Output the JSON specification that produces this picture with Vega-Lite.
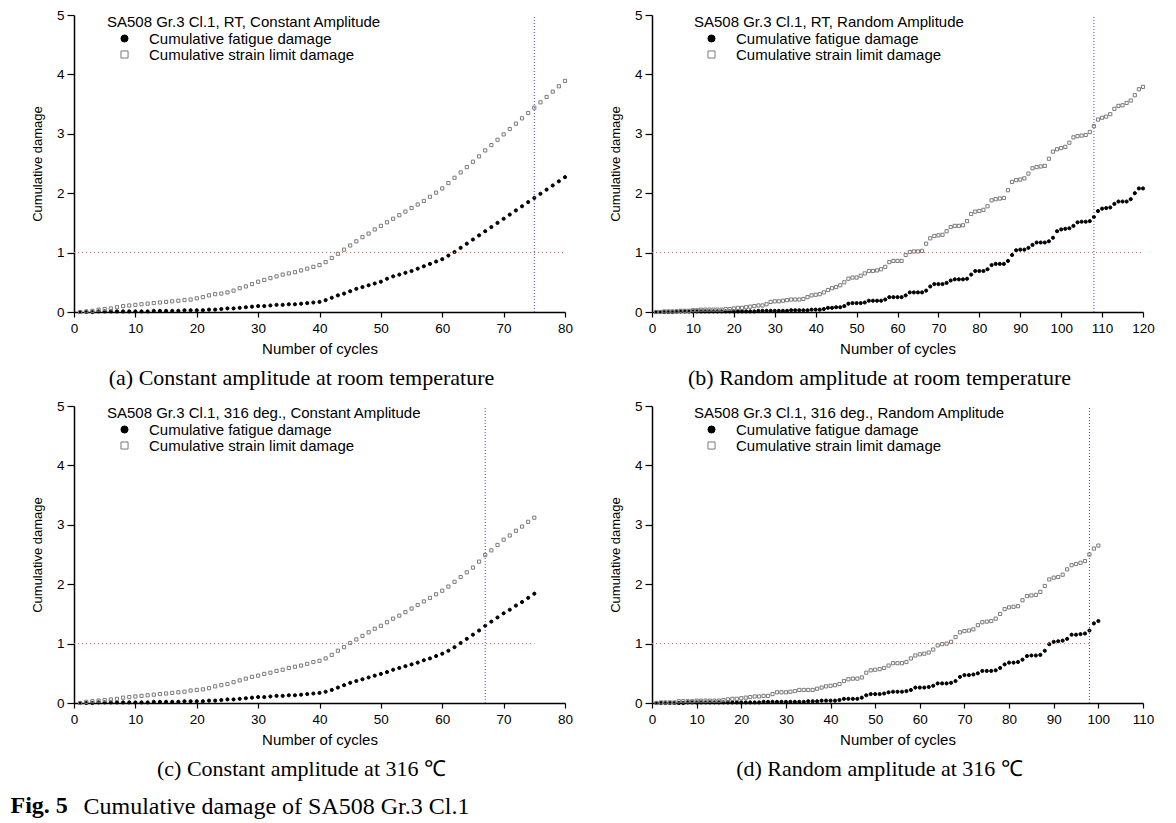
{
"$schema": "https://vega.github.io/schema/vega-lite/v6.json",
"background": "white",
"padding": {"left": 10, "top": 8, "right": 5, "bottom": 0},
"config": {
 "view": {"stroke": null},
 "axis": {"domainColor": "black", "domainWidth": 1.5, "tickColor": "black", "tickWidth": 1.2, "labelColor": "black", "labelFont": "Liberation Sans", "labelFontSize": 13.5, "titleFont": "Liberation Sans", "titleFontSize": 13, "titleFontWeight": "normal", "titleColor": "black", "grid": false, "labelFlush": false, "labelOverlap": false, "labelBound": false},
 "axisX": {"labelPadding": 4, "titlePadding": 7, "titleFontSize": 15},
 "axisY": {"labelPadding": 3, "titlePadding": 12},
 "legend": {"orient": "none", "padding": 0, "titleFont": "Liberation Sans", "titleFontSize": 15, "titleFontWeight": "normal", "titleColor": "black", "labelFont": "Liberation Sans", "labelFontSize": 15, "labelColor": "black", "symbolSize": 50, "symbolStrokeWidth": 1, "symbolOffset": 10, "labelOffset": 17, "rowPadding": 0, "titlePadding": 1, "labelLimit": 400, "titleLimit": 400},
 "title": {"font": "Liberation Serif", "fontSize": 22, "fontWeight": "normal", "color": "black", "orient": "bottom", "offset": 11, "anchor": "middle"}
},
"datasets": {
"a": [
{"n":1,"s":"F","v":0},{"n":2,"s":"F","v":0},{"n":3,"s":"F","v":0},{"n":4,"s":"F","v":0.01},{"n":5,"s":"F","v":0.01},{"n":6,"s":"F","v":0.01},{"n":7,"s":"F","v":0.01},{"n":8,"s":"F","v":0.01},{"n":9,"s":"F","v":0.01},{"n":10,"s":"F","v":0.01},
{"n":11,"s":"F","v":0.01},{"n":12,"s":"F","v":0.01},{"n":13,"s":"F","v":0.02},{"n":14,"s":"F","v":0.02},{"n":15,"s":"F","v":0.02},{"n":16,"s":"F","v":0.02},{"n":17,"s":"F","v":0.02},{"n":18,"s":"F","v":0.03},{"n":19,"s":"F","v":0.03},{"n":20,"s":"F","v":0.03},
{"n":21,"s":"F","v":0.03},{"n":22,"s":"F","v":0.04},{"n":23,"s":"F","v":0.04},{"n":24,"s":"F","v":0.05},{"n":25,"s":"F","v":0.06},{"n":26,"s":"F","v":0.06},{"n":27,"s":"F","v":0.07},{"n":28,"s":"F","v":0.08},{"n":29,"s":"F","v":0.09},{"n":30,"s":"F","v":0.10},
{"n":31,"s":"F","v":0.10},{"n":32,"s":"F","v":0.11},{"n":33,"s":"F","v":0.12},{"n":34,"s":"F","v":0.12},{"n":35,"s":"F","v":0.13},{"n":36,"s":"F","v":0.13},{"n":37,"s":"F","v":0.14},{"n":38,"s":"F","v":0.15},{"n":39,"s":"F","v":0.16},{"n":40,"s":"F","v":0.17},
{"n":41,"s":"F","v":0.20},{"n":42,"s":"F","v":0.24},{"n":43,"s":"F","v":0.28},{"n":44,"s":"F","v":0.31},{"n":45,"s":"F","v":0.35},{"n":46,"s":"F","v":0.39},{"n":47,"s":"F","v":0.42},{"n":48,"s":"F","v":0.45},{"n":49,"s":"F","v":0.48},{"n":50,"s":"F","v":0.51},
{"n":51,"s":"F","v":0.56},{"n":52,"s":"F","v":0.60},{"n":53,"s":"F","v":0.63},{"n":54,"s":"F","v":0.66},{"n":55,"s":"F","v":0.69},{"n":56,"s":"F","v":0.73},{"n":57,"s":"F","v":0.77},{"n":58,"s":"F","v":0.81},{"n":59,"s":"F","v":0.85},{"n":60,"s":"F","v":0.89},
{"n":61,"s":"F","v":0.95},{"n":62,"s":"F","v":1.01},{"n":63,"s":"F","v":1.08},{"n":64,"s":"F","v":1.15},{"n":65,"s":"F","v":1.22},{"n":66,"s":"F","v":1.29},{"n":67,"s":"F","v":1.36},{"n":68,"s":"F","v":1.43},{"n":69,"s":"F","v":1.50},{"n":70,"s":"F","v":1.57},
{"n":71,"s":"F","v":1.64},{"n":72,"s":"F","v":1.71},{"n":73,"s":"F","v":1.78},{"n":74,"s":"F","v":1.85},{"n":75,"s":"F","v":1.92},{"n":76,"s":"F","v":1.99},{"n":77,"s":"F","v":2.06},{"n":78,"s":"F","v":2.13},{"n":79,"s":"F","v":2.20},{"n":80,"s":"F","v":2.27},
{"n":1,"s":"S","v":0},{"n":2,"s":"S","v":0.01},{"n":3,"s":"S","v":0.02},{"n":4,"s":"S","v":0.04},{"n":5,"s":"S","v":0.05},{"n":6,"s":"S","v":0.06},{"n":7,"s":"S","v":0.08},{"n":8,"s":"S","v":0.10},{"n":9,"s":"S","v":0.11},{"n":10,"s":"S","v":0.12},
{"n":11,"s":"S","v":0.13},{"n":12,"s":"S","v":0.14},{"n":13,"s":"S","v":0.15},{"n":14,"s":"S","v":0.16},{"n":15,"s":"S","v":0.17},{"n":16,"s":"S","v":0.18},{"n":17,"s":"S","v":0.19},{"n":18,"s":"S","v":0.20},{"n":19,"s":"S","v":0.21},{"n":20,"s":"S","v":0.23},
{"n":21,"s":"S","v":0.25},{"n":22,"s":"S","v":0.28},{"n":23,"s":"S","v":0.30},{"n":24,"s":"S","v":0.31},{"n":25,"s":"S","v":0.33},{"n":26,"s":"S","v":0.36},{"n":27,"s":"S","v":0.40},{"n":28,"s":"S","v":0.43},{"n":29,"s":"S","v":0.47},{"n":30,"s":"S","v":0.51},
{"n":31,"s":"S","v":0.54},{"n":32,"s":"S","v":0.57},{"n":33,"s":"S","v":0.60},{"n":34,"s":"S","v":0.63},{"n":35,"s":"S","v":0.65},{"n":36,"s":"S","v":0.67},{"n":37,"s":"S","v":0.70},{"n":38,"s":"S","v":0.73},{"n":39,"s":"S","v":0.76},{"n":40,"s":"S","v":0.79},
{"n":41,"s":"S","v":0.84},{"n":42,"s":"S","v":0.91},{"n":43,"s":"S","v":0.98},{"n":44,"s":"S","v":1.05},{"n":45,"s":"S","v":1.12},{"n":46,"s":"S","v":1.19},{"n":47,"s":"S","v":1.26},{"n":48,"s":"S","v":1.32},{"n":49,"s":"S","v":1.39},{"n":50,"s":"S","v":1.45},
{"n":51,"s":"S","v":1.51},{"n":52,"s":"S","v":1.57},{"n":53,"s":"S","v":1.63},{"n":54,"s":"S","v":1.69},{"n":55,"s":"S","v":1.75},{"n":56,"s":"S","v":1.81},{"n":57,"s":"S","v":1.87},{"n":58,"s":"S","v":1.94},{"n":59,"s":"S","v":2.01},{"n":60,"s":"S","v":2.08},
{"n":61,"s":"S","v":2.17},{"n":62,"s":"S","v":2.26},{"n":63,"s":"S","v":2.35},{"n":64,"s":"S","v":2.44},{"n":65,"s":"S","v":2.53},{"n":66,"s":"S","v":2.62},{"n":67,"s":"S","v":2.72},{"n":68,"s":"S","v":2.81},{"n":69,"s":"S","v":2.90},{"n":70,"s":"S","v":2.99},
{"n":71,"s":"S","v":3.08},{"n":72,"s":"S","v":3.17},{"n":73,"s":"S","v":3.26},{"n":74,"s":"S","v":3.35},{"n":75,"s":"S","v":3.44},{"n":76,"s":"S","v":3.53},{"n":77,"s":"S","v":3.62},{"n":78,"s":"S","v":3.71},{"n":79,"s":"S","v":3.80},{"n":80,"s":"S","v":3.89}
],
"b": [
{"n":1,"s":"F","v":0},{"n":2,"s":"F","v":0},{"n":3,"s":"F","v":0},{"n":4,"s":"F","v":0},{"n":5,"s":"F","v":0},{"n":6,"s":"F","v":0.01},{"n":7,"s":"F","v":0.01},{"n":8,"s":"F","v":0.01},{"n":9,"s":"F","v":0.01},{"n":10,"s":"F","v":0.01},
{"n":11,"s":"F","v":0.01},{"n":12,"s":"F","v":0.01},{"n":13,"s":"F","v":0.01},{"n":14,"s":"F","v":0.01},{"n":15,"s":"F","v":0.01},{"n":16,"s":"F","v":0.01},{"n":17,"s":"F","v":0.01},{"n":18,"s":"F","v":0.01},{"n":19,"s":"F","v":0.01},{"n":20,"s":"F","v":0.01},
{"n":21,"s":"F","v":0.01},{"n":22,"s":"F","v":0.01},{"n":23,"s":"F","v":0.01},{"n":24,"s":"F","v":0.01},{"n":25,"s":"F","v":0.01},{"n":26,"s":"F","v":0.02},{"n":27,"s":"F","v":0.02},{"n":28,"s":"F","v":0.02},{"n":29,"s":"F","v":0.02},{"n":30,"s":"F","v":0.02},
{"n":31,"s":"F","v":0.02},{"n":32,"s":"F","v":0.02},{"n":33,"s":"F","v":0.02},{"n":34,"s":"F","v":0.03},{"n":35,"s":"F","v":0.03},{"n":36,"s":"F","v":0.03},{"n":37,"s":"F","v":0.03},{"n":38,"s":"F","v":0.03},{"n":39,"s":"F","v":0.04},{"n":40,"s":"F","v":0.04},
{"n":41,"s":"F","v":0.04},{"n":42,"s":"F","v":0.05},{"n":43,"s":"F","v":0.07},{"n":44,"s":"F","v":0.07},{"n":45,"s":"F","v":0.08},{"n":46,"s":"F","v":0.08},{"n":47,"s":"F","v":0.10},{"n":48,"s":"F","v":0.14},{"n":49,"s":"F","v":0.15},{"n":50,"s":"F","v":0.15},
{"n":51,"s":"F","v":0.15},{"n":52,"s":"F","v":0.16},{"n":53,"s":"F","v":0.19},{"n":54,"s":"F","v":0.19},{"n":55,"s":"F","v":0.19},{"n":56,"s":"F","v":0.19},{"n":57,"s":"F","v":0.21},{"n":58,"s":"F","v":0.25},{"n":59,"s":"F","v":0.25},{"n":60,"s":"F","v":0.25},
{"n":61,"s":"F","v":0.25},{"n":62,"s":"F","v":0.28},{"n":63,"s":"F","v":0.33},{"n":64,"s":"F","v":0.33},{"n":65,"s":"F","v":0.33},{"n":66,"s":"F","v":0.33},{"n":67,"s":"F","v":0.36},{"n":68,"s":"F","v":0.43},{"n":69,"s":"F","v":0.47},{"n":70,"s":"F","v":0.47},
{"n":71,"s":"F","v":0.47},{"n":72,"s":"F","v":0.49},{"n":73,"s":"F","v":0.53},{"n":74,"s":"F","v":0.55},{"n":75,"s":"F","v":0.55},{"n":76,"s":"F","v":0.55},{"n":77,"s":"F","v":0.56},{"n":78,"s":"F","v":0.63},{"n":79,"s":"F","v":0.69},{"n":80,"s":"F","v":0.69},
{"n":81,"s":"F","v":0.69},{"n":82,"s":"F","v":0.72},{"n":83,"s":"F","v":0.79},{"n":84,"s":"F","v":0.81},{"n":85,"s":"F","v":0.81},{"n":86,"s":"F","v":0.81},{"n":87,"s":"F","v":0.86},{"n":88,"s":"F","v":0.96},{"n":89,"s":"F","v":1.04},{"n":90,"s":"F","v":1.05},
{"n":91,"s":"F","v":1.05},{"n":92,"s":"F","v":1.08},{"n":93,"s":"F","v":1.13},{"n":94,"s":"F","v":1.17},{"n":95,"s":"F","v":1.17},{"n":96,"s":"F","v":1.17},{"n":97,"s":"F","v":1.19},{"n":98,"s":"F","v":1.25},{"n":99,"s":"F","v":1.36},{"n":100,"s":"F","v":1.39},
{"n":101,"s":"F","v":1.40},{"n":102,"s":"F","v":1.41},{"n":103,"s":"F","v":1.45},{"n":104,"s":"F","v":1.51},{"n":105,"s":"F","v":1.52},{"n":106,"s":"F","v":1.52},{"n":107,"s":"F","v":1.53},{"n":108,"s":"F","v":1.60},{"n":109,"s":"F","v":1.70},{"n":110,"s":"F","v":1.74},
{"n":111,"s":"F","v":1.75},{"n":112,"s":"F","v":1.76},{"n":113,"s":"F","v":1.82},{"n":114,"s":"F","v":1.86},{"n":115,"s":"F","v":1.86},{"n":116,"s":"F","v":1.86},{"n":117,"s":"F","v":1.90},{"n":118,"s":"F","v":2.00},{"n":119,"s":"F","v":2.08},{"n":120,"s":"F","v":2.08},
{"n":1,"s":"S","v":0},{"n":2,"s":"S","v":0},{"n":3,"s":"S","v":0.01},{"n":4,"s":"S","v":0.01},{"n":5,"s":"S","v":0.01},{"n":6,"s":"S","v":0.01},{"n":7,"s":"S","v":0.02},{"n":8,"s":"S","v":0.02},{"n":9,"s":"S","v":0.02},{"n":10,"s":"S","v":0.03},
{"n":11,"s":"S","v":0.03},{"n":12,"s":"S","v":0.04},{"n":13,"s":"S","v":0.04},{"n":14,"s":"S","v":0.04},{"n":15,"s":"S","v":0.04},{"n":16,"s":"S","v":0.04},{"n":17,"s":"S","v":0.04},{"n":18,"s":"S","v":0.05},{"n":19,"s":"S","v":0.05},{"n":20,"s":"S","v":0.06},
{"n":21,"s":"S","v":0.07},{"n":22,"s":"S","v":0.07},{"n":23,"s":"S","v":0.08},{"n":24,"s":"S","v":0.09},{"n":25,"s":"S","v":0.10},{"n":26,"s":"S","v":0.11},{"n":27,"s":"S","v":0.11},{"n":28,"s":"S","v":0.13},{"n":29,"s":"S","v":0.17},{"n":30,"s":"S","v":0.18},
{"n":31,"s":"S","v":0.18},{"n":32,"s":"S","v":0.19},{"n":33,"s":"S","v":0.20},{"n":34,"s":"S","v":0.21},{"n":35,"s":"S","v":0.21},{"n":36,"s":"S","v":0.21},{"n":37,"s":"S","v":0.22},{"n":38,"s":"S","v":0.25},{"n":39,"s":"S","v":0.28},{"n":40,"s":"S","v":0.29},
{"n":41,"s":"S","v":0.30},{"n":42,"s":"S","v":0.33},{"n":43,"s":"S","v":0.37},{"n":44,"s":"S","v":0.40},{"n":45,"s":"S","v":0.42},{"n":46,"s":"S","v":0.45},{"n":47,"s":"S","v":0.50},{"n":48,"s":"S","v":0.56},{"n":49,"s":"S","v":0.58},{"n":50,"s":"S","v":0.58},
{"n":51,"s":"S","v":0.61},{"n":52,"s":"S","v":0.65},{"n":53,"s":"S","v":0.69},{"n":54,"s":"S","v":0.69},{"n":55,"s":"S","v":0.70},{"n":56,"s":"S","v":0.72},{"n":57,"s":"S","v":0.76},{"n":58,"s":"S","v":0.84},{"n":59,"s":"S","v":0.86},{"n":60,"s":"S","v":0.86},
{"n":61,"s":"S","v":0.86},{"n":62,"s":"S","v":0.96},{"n":63,"s":"S","v":1.01},{"n":64,"s":"S","v":1.02},{"n":65,"s":"S","v":1.02},{"n":66,"s":"S","v":1.03},{"n":67,"s":"S","v":1.15},{"n":68,"s":"S","v":1.24},{"n":69,"s":"S","v":1.28},{"n":70,"s":"S","v":1.29},
{"n":71,"s":"S","v":1.30},{"n":72,"s":"S","v":1.36},{"n":73,"s":"S","v":1.43},{"n":74,"s":"S","v":1.45},{"n":75,"s":"S","v":1.45},{"n":76,"s":"S","v":1.46},{"n":77,"s":"S","v":1.53},{"n":78,"s":"S","v":1.65},{"n":79,"s":"S","v":1.69},{"n":80,"s":"S","v":1.70},
{"n":81,"s":"S","v":1.72},{"n":82,"s":"S","v":1.78},{"n":83,"s":"S","v":1.88},{"n":84,"s":"S","v":1.90},{"n":85,"s":"S","v":1.91},{"n":86,"s":"S","v":1.92},{"n":87,"s":"S","v":2.05},{"n":88,"s":"S","v":2.19},{"n":89,"s":"S","v":2.22},{"n":90,"s":"S","v":2.23},
{"n":91,"s":"S","v":2.25},{"n":92,"s":"S","v":2.33},{"n":93,"s":"S","v":2.42},{"n":94,"s":"S","v":2.44},{"n":95,"s":"S","v":2.45},{"n":96,"s":"S","v":2.46},{"n":97,"s":"S","v":2.58},{"n":98,"s":"S","v":2.70},{"n":99,"s":"S","v":2.74},{"n":100,"s":"S","v":2.76},
{"n":101,"s":"S","v":2.78},{"n":102,"s":"S","v":2.85},{"n":103,"s":"S","v":2.94},{"n":104,"s":"S","v":2.96},{"n":105,"s":"S","v":2.97},{"n":106,"s":"S","v":2.98},{"n":107,"s":"S","v":3.03},{"n":108,"s":"S","v":3.13},{"n":109,"s":"S","v":3.24},{"n":110,"s":"S","v":3.27},
{"n":111,"s":"S","v":3.29},{"n":112,"s":"S","v":3.33},{"n":113,"s":"S","v":3.42},{"n":114,"s":"S","v":3.47},{"n":115,"s":"S","v":3.48},{"n":116,"s":"S","v":3.52},{"n":117,"s":"S","v":3.56},{"n":118,"s":"S","v":3.65},{"n":119,"s":"S","v":3.75},{"n":120,"s":"S","v":3.79}
],
"c": [
{"n":1,"s":"F","v":0},{"n":2,"s":"F","v":0},{"n":3,"s":"F","v":0},{"n":4,"s":"F","v":0.01},{"n":5,"s":"F","v":0.01},{"n":6,"s":"F","v":0.01},{"n":7,"s":"F","v":0.01},{"n":8,"s":"F","v":0.01},{"n":9,"s":"F","v":0.01},{"n":10,"s":"F","v":0.01},
{"n":11,"s":"F","v":0.01},{"n":12,"s":"F","v":0.01},{"n":13,"s":"F","v":0.02},{"n":14,"s":"F","v":0.02},{"n":15,"s":"F","v":0.02},{"n":16,"s":"F","v":0.02},{"n":17,"s":"F","v":0.02},{"n":18,"s":"F","v":0.03},{"n":19,"s":"F","v":0.03},{"n":20,"s":"F","v":0.03},
{"n":21,"s":"F","v":0.03},{"n":22,"s":"F","v":0.04},{"n":23,"s":"F","v":0.04},{"n":24,"s":"F","v":0.05},{"n":25,"s":"F","v":0.06},{"n":26,"s":"F","v":0.06},{"n":27,"s":"F","v":0.07},{"n":28,"s":"F","v":0.08},{"n":29,"s":"F","v":0.09},{"n":30,"s":"F","v":0.10},
{"n":31,"s":"F","v":0.10},{"n":32,"s":"F","v":0.11},{"n":33,"s":"F","v":0.12},{"n":34,"s":"F","v":0.12},{"n":35,"s":"F","v":0.13},{"n":36,"s":"F","v":0.13},{"n":37,"s":"F","v":0.14},{"n":38,"s":"F","v":0.15},{"n":39,"s":"F","v":0.16},{"n":40,"s":"F","v":0.17},
{"n":41,"s":"F","v":0.19},{"n":42,"s":"F","v":0.22},{"n":43,"s":"F","v":0.26},{"n":44,"s":"F","v":0.30},{"n":45,"s":"F","v":0.34},{"n":46,"s":"F","v":0.37},{"n":47,"s":"F","v":0.40},{"n":48,"s":"F","v":0.43},{"n":49,"s":"F","v":0.46},{"n":50,"s":"F","v":0.49},
{"n":51,"s":"F","v":0.52},{"n":52,"s":"F","v":0.56},{"n":53,"s":"F","v":0.59},{"n":54,"s":"F","v":0.62},{"n":55,"s":"F","v":0.65},{"n":56,"s":"F","v":0.68},{"n":57,"s":"F","v":0.72},{"n":58,"s":"F","v":0.75},{"n":59,"s":"F","v":0.79},{"n":60,"s":"F","v":0.83},
{"n":61,"s":"F","v":0.88},{"n":62,"s":"F","v":0.94},{"n":63,"s":"F","v":1.01},{"n":64,"s":"F","v":1.08},{"n":65,"s":"F","v":1.15},{"n":66,"s":"F","v":1.22},{"n":67,"s":"F","v":1.30},{"n":68,"s":"F","v":1.37},{"n":69,"s":"F","v":1.44},{"n":70,"s":"F","v":1.51},
{"n":71,"s":"F","v":1.57},{"n":72,"s":"F","v":1.64},{"n":73,"s":"F","v":1.70},{"n":74,"s":"F","v":1.77},{"n":75,"s":"F","v":1.84},
{"n":1,"s":"S","v":0},{"n":2,"s":"S","v":0.02},{"n":3,"s":"S","v":0.03},{"n":4,"s":"S","v":0.04},{"n":5,"s":"S","v":0.05},{"n":6,"s":"S","v":0.06},{"n":7,"s":"S","v":0.07},{"n":8,"s":"S","v":0.09},{"n":9,"s":"S","v":0.10},{"n":10,"s":"S","v":0.11},
{"n":11,"s":"S","v":0.12},{"n":12,"s":"S","v":0.13},{"n":13,"s":"S","v":0.14},{"n":14,"s":"S","v":0.15},{"n":15,"s":"S","v":0.16},{"n":16,"s":"S","v":0.17},{"n":17,"s":"S","v":0.18},{"n":18,"s":"S","v":0.19},{"n":19,"s":"S","v":0.21},{"n":20,"s":"S","v":0.22},
{"n":21,"s":"S","v":0.23},{"n":22,"s":"S","v":0.25},{"n":23,"s":"S","v":0.28},{"n":24,"s":"S","v":0.30},{"n":25,"s":"S","v":0.32},{"n":26,"s":"S","v":0.35},{"n":27,"s":"S","v":0.38},{"n":28,"s":"S","v":0.41},{"n":29,"s":"S","v":0.44},{"n":30,"s":"S","v":0.46},
{"n":31,"s":"S","v":0.49},{"n":32,"s":"S","v":0.51},{"n":33,"s":"S","v":0.54},{"n":34,"s":"S","v":0.56},{"n":35,"s":"S","v":0.59},{"n":36,"s":"S","v":0.61},{"n":37,"s":"S","v":0.63},{"n":38,"s":"S","v":0.66},{"n":39,"s":"S","v":0.69},{"n":40,"s":"S","v":0.71},
{"n":41,"s":"S","v":0.75},{"n":42,"s":"S","v":0.81},{"n":43,"s":"S","v":0.88},{"n":44,"s":"S","v":0.94},{"n":45,"s":"S","v":1.01},{"n":46,"s":"S","v":1.07},{"n":47,"s":"S","v":1.13},{"n":48,"s":"S","v":1.19},{"n":49,"s":"S","v":1.25},{"n":50,"s":"S","v":1.30},
{"n":51,"s":"S","v":1.36},{"n":52,"s":"S","v":1.42},{"n":53,"s":"S","v":1.47},{"n":54,"s":"S","v":1.53},{"n":55,"s":"S","v":1.59},{"n":56,"s":"S","v":1.65},{"n":57,"s":"S","v":1.71},{"n":58,"s":"S","v":1.77},{"n":59,"s":"S","v":1.83},{"n":60,"s":"S","v":1.89},
{"n":61,"s":"S","v":1.96},{"n":62,"s":"S","v":2.04},{"n":63,"s":"S","v":2.12},{"n":64,"s":"S","v":2.20},{"n":65,"s":"S","v":2.28},{"n":66,"s":"S","v":2.38},{"n":67,"s":"S","v":2.49},{"n":68,"s":"S","v":2.57},{"n":69,"s":"S","v":2.66},{"n":70,"s":"S","v":2.75},
{"n":71,"s":"S","v":2.82},{"n":72,"s":"S","v":2.90},{"n":73,"s":"S","v":2.97},{"n":74,"s":"S","v":3.05},{"n":75,"s":"S","v":3.12}
],
"d": [
{"n":1,"s":"F","v":0},{"n":2,"s":"F","v":0},{"n":3,"s":"F","v":0},{"n":4,"s":"F","v":0},{"n":5,"s":"F","v":0},{"n":6,"s":"F","v":0},{"n":7,"s":"F","v":0},{"n":8,"s":"F","v":0.01},{"n":9,"s":"F","v":0.01},{"n":10,"s":"F","v":0.01},
{"n":11,"s":"F","v":0.01},{"n":12,"s":"F","v":0.01},{"n":13,"s":"F","v":0.01},{"n":14,"s":"F","v":0.01},{"n":15,"s":"F","v":0.01},{"n":16,"s":"F","v":0.01},{"n":17,"s":"F","v":0.01},{"n":18,"s":"F","v":0.01},{"n":19,"s":"F","v":0.01},{"n":20,"s":"F","v":0.01},
{"n":21,"s":"F","v":0.01},{"n":22,"s":"F","v":0.01},{"n":23,"s":"F","v":0.01},{"n":24,"s":"F","v":0.01},{"n":25,"s":"F","v":0.02},{"n":26,"s":"F","v":0.02},{"n":27,"s":"F","v":0.02},{"n":28,"s":"F","v":0.02},{"n":29,"s":"F","v":0.02},{"n":30,"s":"F","v":0.02},
{"n":31,"s":"F","v":0.02},{"n":32,"s":"F","v":0.02},{"n":33,"s":"F","v":0.02},{"n":34,"s":"F","v":0.02},{"n":35,"s":"F","v":0.03},{"n":36,"s":"F","v":0.03},{"n":37,"s":"F","v":0.03},{"n":38,"s":"F","v":0.04},{"n":39,"s":"F","v":0.04},{"n":40,"s":"F","v":0.04},
{"n":41,"s":"F","v":0.04},{"n":42,"s":"F","v":0.05},{"n":43,"s":"F","v":0.07},{"n":44,"s":"F","v":0.07},{"n":45,"s":"F","v":0.07},{"n":46,"s":"F","v":0.07},{"n":47,"s":"F","v":0.09},{"n":48,"s":"F","v":0.13},{"n":49,"s":"F","v":0.15},{"n":50,"s":"F","v":0.15},
{"n":51,"s":"F","v":0.15},{"n":52,"s":"F","v":0.16},{"n":53,"s":"F","v":0.18},{"n":54,"s":"F","v":0.19},{"n":55,"s":"F","v":0.19},{"n":56,"s":"F","v":0.19},{"n":57,"s":"F","v":0.20},{"n":58,"s":"F","v":0.22},{"n":59,"s":"F","v":0.26},{"n":60,"s":"F","v":0.26},
{"n":61,"s":"F","v":0.26},{"n":62,"s":"F","v":0.27},{"n":63,"s":"F","v":0.29},{"n":64,"s":"F","v":0.33},{"n":65,"s":"F","v":0.33},{"n":66,"s":"F","v":0.33},{"n":67,"s":"F","v":0.34},{"n":68,"s":"F","v":0.37},{"n":69,"s":"F","v":0.44},{"n":70,"s":"F","v":0.47},
{"n":71,"s":"F","v":0.47},{"n":72,"s":"F","v":0.48},{"n":73,"s":"F","v":0.50},{"n":74,"s":"F","v":0.54},{"n":75,"s":"F","v":0.54},{"n":76,"s":"F","v":0.54},{"n":77,"s":"F","v":0.55},{"n":78,"s":"F","v":0.59},{"n":79,"s":"F","v":0.65},{"n":80,"s":"F","v":0.68},
{"n":81,"s":"F","v":0.68},{"n":82,"s":"F","v":0.69},{"n":83,"s":"F","v":0.73},{"n":84,"s":"F","v":0.79},{"n":85,"s":"F","v":0.80},{"n":86,"s":"F","v":0.80},{"n":87,"s":"F","v":0.81},{"n":88,"s":"F","v":0.88},{"n":89,"s":"F","v":0.99},{"n":90,"s":"F","v":1.03},
{"n":91,"s":"F","v":1.04},{"n":92,"s":"F","v":1.05},{"n":93,"s":"F","v":1.08},{"n":94,"s":"F","v":1.15},{"n":95,"s":"F","v":1.15},{"n":96,"s":"F","v":1.16},{"n":97,"s":"F","v":1.17},{"n":98,"s":"F","v":1.22},{"n":99,"s":"F","v":1.34},{"n":100,"s":"F","v":1.38},
{"n":1,"s":"S","v":0},{"n":2,"s":"S","v":0.01},{"n":3,"s":"S","v":0.01},{"n":4,"s":"S","v":0.01},{"n":5,"s":"S","v":0.01},{"n":6,"s":"S","v":0.03},{"n":7,"s":"S","v":0.03},{"n":8,"s":"S","v":0.03},{"n":9,"s":"S","v":0.03},{"n":10,"s":"S","v":0.04},
{"n":11,"s":"S","v":0.04},{"n":12,"s":"S","v":0.04},{"n":13,"s":"S","v":0.04},{"n":14,"s":"S","v":0.04},{"n":15,"s":"S","v":0.04},{"n":16,"s":"S","v":0.05},{"n":17,"s":"S","v":0.06},{"n":18,"s":"S","v":0.07},{"n":19,"s":"S","v":0.07},{"n":20,"s":"S","v":0.08},
{"n":21,"s":"S","v":0.09},{"n":22,"s":"S","v":0.10},{"n":23,"s":"S","v":0.11},{"n":24,"s":"S","v":0.11},{"n":25,"s":"S","v":0.12},{"n":26,"s":"S","v":0.12},{"n":27,"s":"S","v":0.15},{"n":28,"s":"S","v":0.18},{"n":29,"s":"S","v":0.18},{"n":30,"s":"S","v":0.18},
{"n":31,"s":"S","v":0.19},{"n":32,"s":"S","v":0.20},{"n":33,"s":"S","v":0.22},{"n":34,"s":"S","v":0.22},{"n":35,"s":"S","v":0.22},{"n":36,"s":"S","v":0.22},{"n":37,"s":"S","v":0.24},{"n":38,"s":"S","v":0.26},{"n":39,"s":"S","v":0.28},{"n":40,"s":"S","v":0.29},
{"n":41,"s":"S","v":0.30},{"n":42,"s":"S","v":0.32},{"n":43,"s":"S","v":0.37},{"n":44,"s":"S","v":0.40},{"n":45,"s":"S","v":0.41},{"n":46,"s":"S","v":0.41},{"n":47,"s":"S","v":0.43},{"n":48,"s":"S","v":0.51},{"n":49,"s":"S","v":0.55},{"n":50,"s":"S","v":0.56},
{"n":51,"s":"S","v":0.57},{"n":52,"s":"S","v":0.59},{"n":53,"s":"S","v":0.63},{"n":54,"s":"S","v":0.67},{"n":55,"s":"S","v":0.67},{"n":56,"s":"S","v":0.67},{"n":57,"s":"S","v":0.69},{"n":58,"s":"S","v":0.75},{"n":59,"s":"S","v":0.80},{"n":60,"s":"S","v":0.82},
{"n":61,"s":"S","v":0.83},{"n":62,"s":"S","v":0.85},{"n":63,"s":"S","v":0.90},{"n":64,"s":"S","v":0.97},{"n":65,"s":"S","v":0.99},{"n":66,"s":"S","v":1.00},{"n":67,"s":"S","v":1.03},{"n":68,"s":"S","v":1.11},{"n":69,"s":"S","v":1.19},{"n":70,"s":"S","v":1.21},
{"n":71,"s":"S","v":1.22},{"n":72,"s":"S","v":1.24},{"n":73,"s":"S","v":1.31},{"n":74,"s":"S","v":1.36},{"n":75,"s":"S","v":1.37},{"n":76,"s":"S","v":1.38},{"n":77,"s":"S","v":1.42},{"n":78,"s":"S","v":1.50},{"n":79,"s":"S","v":1.58},{"n":80,"s":"S","v":1.61},
{"n":81,"s":"S","v":1.62},{"n":82,"s":"S","v":1.63},{"n":83,"s":"S","v":1.73},{"n":84,"s":"S","v":1.80},{"n":85,"s":"S","v":1.81},{"n":86,"s":"S","v":1.82},{"n":87,"s":"S","v":1.87},{"n":88,"s":"S","v":1.97},{"n":89,"s":"S","v":2.08},{"n":90,"s":"S","v":2.11},
{"n":91,"s":"S","v":2.12},{"n":92,"s":"S","v":2.16},{"n":93,"s":"S","v":2.25},{"n":94,"s":"S","v":2.32},{"n":95,"s":"S","v":2.34},{"n":96,"s":"S","v":2.36},{"n":97,"s":"S","v":2.39},{"n":98,"s":"S","v":2.50},{"n":99,"s":"S","v":2.60},{"n":100,"s":"S","v":2.65}
]
},
"resolve": {"scale": {"shape": "independent", "fill": "independent", "stroke": "independent"}, "legend": {"shape": "independent", "fill": "independent", "stroke": "independent"}},
"spacing": 10,
"title": {"text": "Cumulative damage of SA508 Gr.3 Cl.1", "anchor": "start", "offset": 0, "dx": 73, "dy": -23, "fontSize": 24},
"vconcat": [
{
"spacing": 36,
"resolve": {"scale": {"shape": "independent", "fill": "independent", "stroke": "independent"}, "legend": {"shape": "independent", "fill": "independent", "stroke": "independent"}},
"hconcat": [
{
"width": 491, "height": 297,
"title": {"text": "(a) Constant amplitude at room temperature", "dx": -18},
"layer": [
{"data": {"name": "a"},
 "mark": {"type": "point", "opacity": 1, "strokeWidth": 1, "size": 10},
 "encoding": {
  "x": {"field": "n", "type": "quantitative", "scale": {"domain": [0, 80], "nice": false}, "axis": {"title": "Number of cycles", "values": [0,5,10,15,20,25,30,35,40,45,50,55,60,65,70,75,80], "labelExpr": "datum.value % 10 == 0 ? datum.label : ''", "tickSize": {"condition": {"test": "datum.value % 10 != 0", "value": 3}, "value": 5}}},
  "y": {"field": "v", "type": "quantitative", "scale": {"domain": [0, 5], "nice": false}, "axis": {"title": "Cumulative damage", "values": [0,0.5,1,1.5,2,2.5,3,3.5,4,4.5,5], "labelExpr": "datum.value % 1 == 0 ? format(datum.value, 'd') : ''", "tickSize": {"condition": {"test": "datum.value % 1 != 0", "value": 4}, "value": 7}}},
  "shape": {"field": "s", "type": "nominal", "scale": {"domain": ["F","S"], "range": ["circle","square"]}, "legend": {"title": "SA508 Gr.3 Cl.1, RT, Constant Amplitude", "legendX": 33, "legendY": 0, "labelExpr": "datum.label == 'F' ? 'Cumulative fatigue damage' : 'Cumulative strain limit damage'"}},
  "fill": {"field": "s", "type": "nominal", "scale": {"domain": ["F","S"], "range": ["black","transparent"]}, "legend": {"title": "SA508 Gr.3 Cl.1, RT, Constant Amplitude", "legendX": 33, "legendY": 0, "labelExpr": "datum.label == 'F' ? 'Cumulative fatigue damage' : 'Cumulative strain limit damage'"}},
  "stroke": {"field": "s", "type": "nominal", "scale": {"domain": ["F","S"], "range": ["black","#7a7a7a"]}, "legend": {"title": "SA508 Gr.3 Cl.1, RT, Constant Amplitude", "legendX": 33, "legendY": 0, "labelExpr": "datum.label == 'F' ? 'Cumulative fatigue damage' : 'Cumulative strain limit damage'"}}
 }},
{"data": {"values": [{"n": 0, "n2": 80, "v": 1}]}, "mark": {"type": "rule", "color": "#e06666", "strokeDash": [1,3], "strokeWidth": 1}, "encoding": {"x": {"field": "n", "type": "quantitative"}, "x2": {"field": "n2"}, "y": {"field": "v", "type": "quantitative"}}},
{"data": {"values": [{"n": 75, "v": 0, "v2": 5}]}, "mark": {"type": "rule", "color": "#4040ff", "strokeDash": [1,2], "strokeWidth": 1}, "encoding": {"x": {"field": "n", "type": "quantitative"}, "y": {"field": "v", "type": "quantitative"}, "y2": {"field": "v2"}}}
]
},
{
"width": 491, "height": 297,
"title": {"text": "(b) Random amplitude at room temperature", "dx": -18},
"layer": [
{"data": {"name": "b"},
 "mark": {"type": "point", "opacity": 1, "strokeWidth": 1, "size": 10},
 "encoding": {
  "x": {"field": "n", "type": "quantitative", "scale": {"domain": [0, 120], "nice": false}, "axis": {"title": "Number of cycles", "values": [0,5,10,15,20,25,30,35,40,45,50,55,60,65,70,75,80,85,90,95,100,105,110,115,120], "labelExpr": "datum.value % 10 == 0 ? datum.label : ''", "tickSize": {"condition": {"test": "datum.value % 10 != 0", "value": 3}, "value": 5}}},
  "y": {"field": "v", "type": "quantitative", "scale": {"domain": [0, 5], "nice": false}, "axis": {"title": "Cumulative damage", "values": [0,0.5,1,1.5,2,2.5,3,3.5,4,4.5,5], "labelExpr": "datum.value % 1 == 0 ? format(datum.value, 'd') : ''", "tickSize": {"condition": {"test": "datum.value % 1 != 0", "value": 4}, "value": 7}}},
  "shape": {"field": "s", "type": "nominal", "scale": {"domain": ["F","S"], "range": ["circle","square"]}, "legend": {"title": "SA508 Gr.3 Cl.1, RT, Random Amplitude", "legendX": 42, "legendY": 0, "labelExpr": "datum.label == 'F' ? 'Cumulative fatigue damage' : 'Cumulative strain limit damage'"}},
  "fill": {"field": "s", "type": "nominal", "scale": {"domain": ["F","S"], "range": ["black","transparent"]}, "legend": {"title": "SA508 Gr.3 Cl.1, RT, Random Amplitude", "legendX": 42, "legendY": 0, "labelExpr": "datum.label == 'F' ? 'Cumulative fatigue damage' : 'Cumulative strain limit damage'"}},
  "stroke": {"field": "s", "type": "nominal", "scale": {"domain": ["F","S"], "range": ["black","#7a7a7a"]}, "legend": {"title": "SA508 Gr.3 Cl.1, RT, Random Amplitude", "legendX": 42, "legendY": 0, "labelExpr": "datum.label == 'F' ? 'Cumulative fatigue damage' : 'Cumulative strain limit damage'"}}
 }},
{"data": {"values": [{"n": 0, "n2": 120, "v": 1}]}, "mark": {"type": "rule", "color": "#e06666", "strokeDash": [1,3], "strokeWidth": 1}, "encoding": {"x": {"field": "n", "type": "quantitative"}, "x2": {"field": "n2"}, "y": {"field": "v", "type": "quantitative"}}},
{"data": {"values": [{"n": 108, "v": 0, "v2": 5}]}, "mark": {"type": "rule", "color": "#4040ff", "strokeDash": [1,2], "strokeWidth": 1}, "encoding": {"x": {"field": "n", "type": "quantitative"}, "y": {"field": "v", "type": "quantitative"}, "y2": {"field": "v2"}}}
]
}
]
},
{
"spacing": 36,
"title": {"text": "Fig. 5", "anchor": "start", "fontWeight": "bold", "offset": 14, "dx": -21, "fontSize": 24},
"resolve": {"scale": {"shape": "independent", "fill": "independent", "stroke": "independent"}, "legend": {"shape": "independent", "fill": "independent", "stroke": "independent"}},
"hconcat": [
{
"width": 491, "height": 297,
"title": {"text": "(c) Constant amplitude at 316 ℃", "dx": -18},
"layer": [
{"data": {"name": "c"},
 "mark": {"type": "point", "opacity": 1, "strokeWidth": 1, "size": 10},
 "encoding": {
  "x": {"field": "n", "type": "quantitative", "scale": {"domain": [0, 80], "nice": false}, "axis": {"title": "Number of cycles", "values": [0,5,10,15,20,25,30,35,40,45,50,55,60,65,70,75,80], "labelExpr": "datum.value % 10 == 0 ? datum.label : ''", "tickSize": {"condition": {"test": "datum.value % 10 != 0", "value": 3}, "value": 5}}},
  "y": {"field": "v", "type": "quantitative", "scale": {"domain": [0, 5], "nice": false}, "axis": {"title": "Cumulative damage", "values": [0,0.5,1,1.5,2,2.5,3,3.5,4,4.5,5], "labelExpr": "datum.value % 1 == 0 ? format(datum.value, 'd') : ''", "tickSize": {"condition": {"test": "datum.value % 1 != 0", "value": 4}, "value": 7}}},
  "shape": {"field": "s", "type": "nominal", "scale": {"domain": ["F","S"], "range": ["circle","square"]}, "legend": {"title": "SA508 Gr.3 Cl.1, 316 deg., Constant Amplitude", "legendX": 33, "legendY": 0, "labelExpr": "datum.label == 'F' ? 'Cumulative fatigue damage' : 'Cumulative strain limit damage'"}},
  "fill": {"field": "s", "type": "nominal", "scale": {"domain": ["F","S"], "range": ["black","transparent"]}, "legend": {"title": "SA508 Gr.3 Cl.1, 316 deg., Constant Amplitude", "legendX": 33, "legendY": 0, "labelExpr": "datum.label == 'F' ? 'Cumulative fatigue damage' : 'Cumulative strain limit damage'"}},
  "stroke": {"field": "s", "type": "nominal", "scale": {"domain": ["F","S"], "range": ["black","#7a7a7a"]}, "legend": {"title": "SA508 Gr.3 Cl.1, 316 deg., Constant Amplitude", "legendX": 33, "legendY": 0, "labelExpr": "datum.label == 'F' ? 'Cumulative fatigue damage' : 'Cumulative strain limit damage'"}}
 }},
{"data": {"values": [{"n": 0, "n2": 75, "v": 1}]}, "mark": {"type": "rule", "color": "#e06666", "strokeDash": [1,3], "strokeWidth": 1}, "encoding": {"x": {"field": "n", "type": "quantitative"}, "x2": {"field": "n2"}, "y": {"field": "v", "type": "quantitative"}}},
{"data": {"values": [{"n": 67, "v": 0, "v2": 5}]}, "mark": {"type": "rule", "color": "#4040ff", "strokeDash": [1,2], "strokeWidth": 1}, "encoding": {"x": {"field": "n", "type": "quantitative"}, "y": {"field": "v", "type": "quantitative"}, "y2": {"field": "v2"}}}
]
},
{
"width": 491, "height": 297,
"title": {"text": "(d) Random amplitude at 316 ℃", "dx": -18},
"layer": [
{"data": {"name": "d"},
 "mark": {"type": "point", "opacity": 1, "strokeWidth": 1, "size": 10},
 "encoding": {
  "x": {"field": "n", "type": "quantitative", "scale": {"domain": [0, 110], "nice": false}, "axis": {"title": "Number of cycles", "values": [0,5,10,15,20,25,30,35,40,45,50,55,60,65,70,75,80,85,90,95,100,105,110], "labelExpr": "datum.value % 10 == 0 ? datum.label : ''", "tickSize": {"condition": {"test": "datum.value % 10 != 0", "value": 3}, "value": 5}}},
  "y": {"field": "v", "type": "quantitative", "scale": {"domain": [0, 5], "nice": false}, "axis": {"title": "Cumulative damage", "values": [0,0.5,1,1.5,2,2.5,3,3.5,4,4.5,5], "labelExpr": "datum.value % 1 == 0 ? format(datum.value, 'd') : ''", "tickSize": {"condition": {"test": "datum.value % 1 != 0", "value": 4}, "value": 7}}},
  "shape": {"field": "s", "type": "nominal", "scale": {"domain": ["F","S"], "range": ["circle","square"]}, "legend": {"title": "SA508 Gr.3 Cl.1, 316 deg., Random Amplitude", "legendX": 42, "legendY": 0, "labelExpr": "datum.label == 'F' ? 'Cumulative fatigue damage' : 'Cumulative strain limit damage'"}},
  "fill": {"field": "s", "type": "nominal", "scale": {"domain": ["F","S"], "range": ["black","transparent"]}, "legend": {"title": "SA508 Gr.3 Cl.1, 316 deg., Random Amplitude", "legendX": 42, "legendY": 0, "labelExpr": "datum.label == 'F' ? 'Cumulative fatigue damage' : 'Cumulative strain limit damage'"}},
  "stroke": {"field": "s", "type": "nominal", "scale": {"domain": ["F","S"], "range": ["black","#7a7a7a"]}, "legend": {"title": "SA508 Gr.3 Cl.1, 316 deg., Random Amplitude", "legendX": 42, "legendY": 0, "labelExpr": "datum.label == 'F' ? 'Cumulative fatigue damage' : 'Cumulative strain limit damage'"}}
 }},
{"data": {"values": [{"n": 0, "n2": 98, "v": 1}]}, "mark": {"type": "rule", "color": "#e06666", "strokeDash": [1,3], "strokeWidth": 1}, "encoding": {"x": {"field": "n", "type": "quantitative"}, "x2": {"field": "n2"}, "y": {"field": "v", "type": "quantitative"}}},
{"data": {"values": [{"n": 98, "v": 0, "v2": 5}]}, "mark": {"type": "rule", "color": "#4040ff", "strokeDash": [1,2], "strokeWidth": 1}, "encoding": {"x": {"field": "n", "type": "quantitative"}, "y": {"field": "v", "type": "quantitative"}, "y2": {"field": "v2"}}}
]
}
]
}
]
}
